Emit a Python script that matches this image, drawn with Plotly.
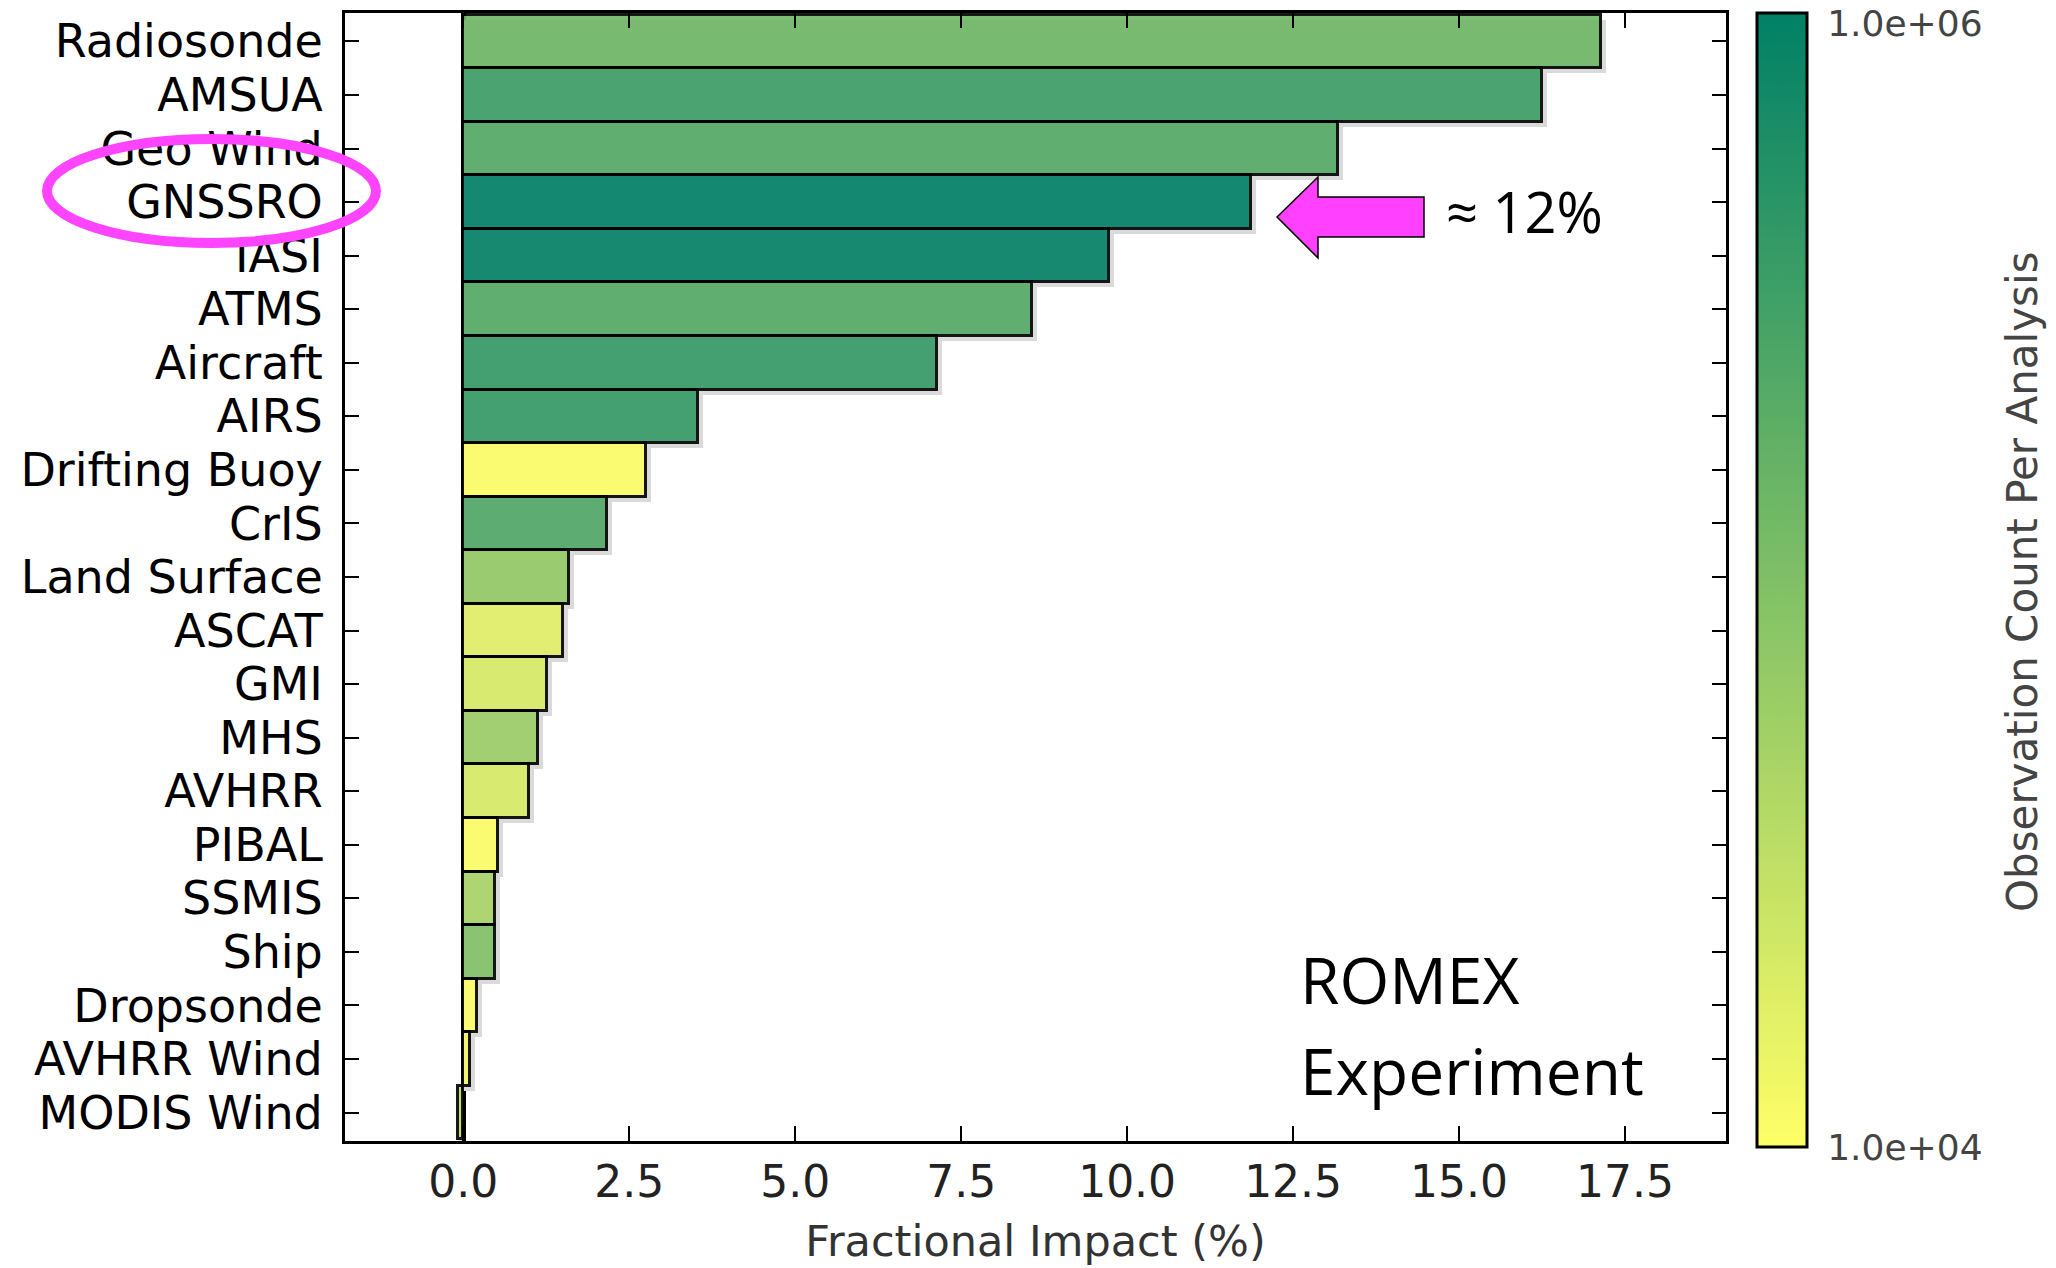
import numpy as np
import plotly.graph_objects as go

# Observation types, top to bottom
obs_types = [
    "Radiosonde", "AMSUA", "Geo Wind", "GNSSRO", "IASI", "ATMS", "Aircraft",
    "AIRS", "Drifting Buoy", "CrIS", "Land Surface", "ASCAT", "GMI", "MHS",
    "AVHRR", "PIBAL", "SSMIS", "Ship", "Dropsonde", "AVHRR Wind", "MODIS Wind",
]

# Fractional impact (%)
impact = [
    17.13, 16.25, 13.18, 11.86, 9.73, 8.57, 7.14,
    3.54, 2.76, 2.16, 1.59, 1.51, 1.26, 1.13,
    0.99, 0.52, 0.48, 0.48, 0.21, 0.11, -0.08,
]

# Observation count per analysis
obs_count = [
    1.35e5, 3.4e5, 2.2e5, 1.0e6, 9.5e5, 2.2e5, 3.9e5,
    3.9e5, 1.0e4, 2.35e5, 6.9e4, 1.65e4, 2.0e4, 6.0e4,
    2.0e4, 1.0e4, 4.6e4, 9.5e4, 1.0e4, 1.2e4, 3.0e4,
]

xtick_vals = [0.0, 2.5, 5.0, 7.5, 10.0, 12.5, 15.0, 17.5]
cbar_tick_vals = [1.0e4, 1.0e6]

W, H = 2056, 1268
ML, MR, MT, MB = 345, 330, 13, 127
PW, PH = W - ML - MR, H - MT - MB
X_RANGE = [-1.78, 19.02]


def px(x):
    return (x - ML) / PW


def py(y):
    return (H - MB - y) / PH


FONT = "DejaVu Sans"
summer_r = [[0.0, "#ffff66"], [1.0, "#008066"]]
CMIN, CMAX = 4.0, 6.0
CBAR_LEN = 1134

ypos = np.arange(len(obs_types))
log_count = np.log10(obs_count)

# end labels sit a few pixels inside the bar ends so the top one stays on the page
cbar_ticks = np.log10(cbar_tick_vals)
cbar_ticks = [cbar_ticks[0] + 1e-4, cbar_ticks[1] - 10 * (CMAX - CMIN) / CBAR_LEN]

# soft drop shadow offset a few pixels right and down
sx = 5 * (X_RANGE[1] - X_RANGE[0]) / PW
sy = 5 / (PH / (len(obs_types) + 0.06))

fig = go.Figure()
fig.add_trace(go.Bar(
    x=[v + sx if v > 0 else v for v in impact],
    y=ypos + sy,
    orientation="h",
    width=1.0,
    marker=dict(color="#dadada", line=dict(width=0)),
    showlegend=False,
    hoverinfo="skip",
))
fig.add_trace(go.Bar(
    x=impact,
    y=ypos,
    orientation="h",
    width=1.0,
    marker=dict(
        color=log_count,
        colorscale=summer_r,
        cmin=CMIN, cmax=CMAX,
        opacity=0.9,
        line=dict(color="black", width=3),
        colorbar=dict(
            x=px(1757), xanchor="left", xref="paper",
            y=py(580), yanchor="middle", yref="paper",
            len=CBAR_LEN, lenmode="pixels",
            thickness=50, thicknessmode="pixels",
            outlinewidth=3, outlinecolor="black",
            xpad=0, ypad=0,
            tickvals=cbar_ticks,
            ticktext=[f"{v:.1e}" for v in cbar_tick_vals],
            ticks="outside", ticklen=12, tickcolor="rgba(0,0,0,0)",
            ticklabeloverflow="allow",
            tickfont=dict(family=FONT, size=36, color="#444444"),
        ),
    ),
    showlegend=False,
    hoverinfo="x+y",
))

fig.update_layout(
    width=W, height=H,
    margin=dict(l=ML, r=MR, t=MT, b=MB, pad=0, autoexpand=False),
    paper_bgcolor="white",
    plot_bgcolor="white",
    font=dict(family=FONT, color="black"),
    bargap=0,
    barmode="overlay",
    xaxis=dict(
        range=X_RANGE,
        tickvals=xtick_vals,
        ticktext=[f"{v:.1f}" for v in xtick_vals],
        ticks="inside", ticklen=15, tickwidth=2, tickcolor="black",
        showline=True, linewidth=3, linecolor="black", mirror="allticks",
        showgrid=False, automargin=False,
        zeroline=True, zerolinewidth=5, zerolinecolor="black",
        tickfont=dict(family=FONT, size=44, color="#222222"),
        ticklabelstandoff=0,
        title=dict(text="Fractional Impact (%)",
                   font=dict(family=FONT, size=43, color="#333333"),
                   standoff=21),
    ),
    yaxis=dict(
        range=[len(obs_types) - 0.47, -0.53],
        tickvals=list(ypos),
        ticktext=obs_types,
        ticks="inside", ticklen=14, tickwidth=2, tickcolor="black",
        showline=True, linewidth=3, linecolor="black", mirror="allticks",
        showgrid=False, zeroline=False, automargin=False,
        tickfont=dict(family=FONT, size=46, color="black"),
        ticklabelstandoff=10,
    ),
)

# Colour bar caption
fig.add_annotation(xref="paper", yref="paper", x=px(2023), y=py(582),
                   xanchor="center", yanchor="middle", showarrow=False,
                   textangle=-90, text="Observation Count Per Analysis",
                   font=dict(family=FONT, size=42, color="#444444"))

# Highlight ring around the GNSSRO label
fig.add_shape(type="circle", xref="paper", yref="paper",
              x0=px(47), x1=px(376), y0=py(243), y1=py(139),
              line=dict(color="#ff44ff", width=10), fillcolor="rgba(0,0,0,0)")

# Block arrow pointing at the GNSSRO bar
arrow_pts = [(1277, 217), (1318, 177), (1318, 197), (1424, 197),
             (1424, 237), (1318, 237), (1318, 258)]
path = "M " + " L ".join(f"{px(x):.5f},{py(y):.5f}" for x, y in arrow_pts) + " Z"
fig.add_shape(type="path", xref="paper", yref="paper", path=path,
              fillcolor="#ff40ff", line=dict(color="black", width=1.5))

fig.add_annotation(xref="paper", yref="paper", x=px(1444), y=py(211),
                   xanchor="left", yanchor="middle", showarrow=False,
                   text="≈ 12%", font=dict(family="Open Sans", size=56, color="black"))

fig.add_annotation(xref="paper", yref="paper", x=px(1298), y=py(979),
                   xanchor="left", yanchor="middle", showarrow=False,
                   text="ROMEX", font=dict(family="Open Sans", size=64, color="black"))
fig.add_annotation(xref="paper", yref="paper", x=px(1298), y=py(1070),
                   xanchor="left", yanchor="middle", showarrow=False,
                   text="Experiment", font=dict(family="Open Sans", size=64, color="black"))

fig.write_html("out.html")
